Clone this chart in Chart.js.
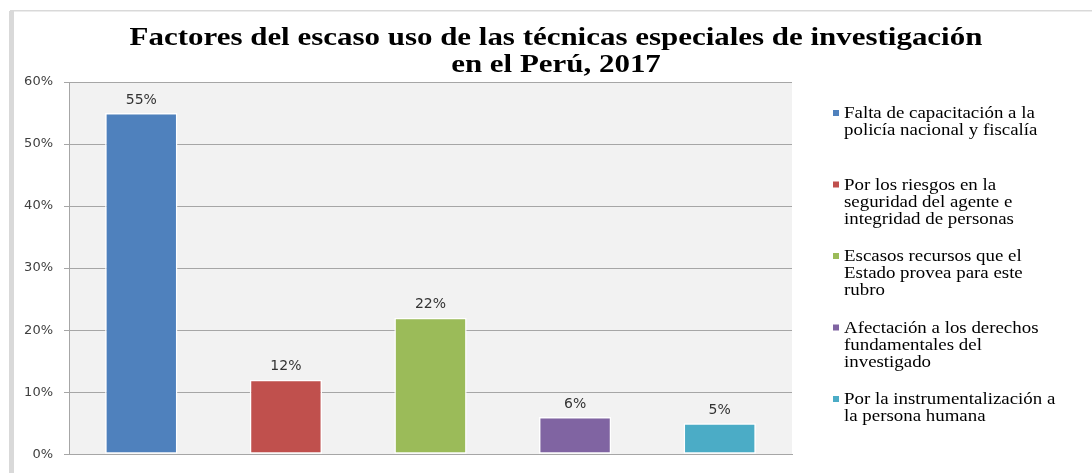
<!DOCTYPE html>
<html>
<head>
<meta charset="utf-8">
<script src="https://cdn.jsdelivr.net/npm/chart.js@4"></script>
<style>
  html, body { margin: 0; padding: 0; background: #fff; }
  #wrap { width: 1092px; height: 473px; }
</style>
</head>
<body>
<div id="wrap"><canvas id="chart"></canvas></div>
<script>
const titleLines = ['Factores del escaso uso de las técnicas especiales de investigación', 'en el Perú, 2017'];
const categories = [
    ['Falta de capacitación a la', 'policía nacional y fiscalía'],
    ['Por los riesgos en la', 'seguridad del agente e', 'integridad de personas'],
    ['Escasos recursos que el', 'Estado provea para este', 'rubro'],
    ['Afectación a los derechos', 'fundamentales del', 'investigado'],
    ['Por la instrumentalización a', 'la persona humana']
];
const values = [55, 12, 22, 6, 5];
const barColors = ['#4F81BD', '#C0504D', '#9BBB59', '#8064A2', '#4BACC6'];
const yTicks = [0, 10, 20, 30, 40, 50, 60];

// grey frame + plot background
const frame = {
    id: 'frame',
    beforeDraw(chart) {
        const { ctx, chartArea: a } = chart;
        ctx.save();
        ctx.fillStyle = '#f2f2f2';
        ctx.fillRect(a.left, a.top, a.right - a.left, a.bottom - a.top);
        ctx.fillStyle = '#d9d9d9';
        ctx.fillRect(10, 10, chart.width - 10, 1.5);
        ctx.fillRect(9, 11, 5, chart.height - 11);
        ctx.restore();
    }
};

// title, the original is a stretched serif
const wideTitle = {
    id: 'wideTitle',
    afterDraw(chart) {
        const ctx = chart.ctx;
        ctx.save();
        ctx.translate(556, 0);
        ctx.scale(1.19, 1);
        ctx.font = 'bold 26px "Liberation Serif"';
        ctx.fillStyle = '#000';
        ctx.textAlign = 'center';
        ctx.textBaseline = 'alphabetic';
        titleLines.forEach((t, i) => ctx.fillText(t, 0, 45 + i * 27));
        ctx.restore();
    }
};

// percent labels above bars
const valueLabels = {
    id: 'valueLabels',
    afterDatasetsDraw(chart) {
        const ctx = chart.ctx;
        const meta = chart.getDatasetMeta(0);
        ctx.save();
        ctx.font = '14px "DejaVu Sans"';
        ctx.fillStyle = '#333333';
        ctx.textAlign = 'center';
        ctx.textBaseline = 'middle';
        meta.data.forEach((bar, i) => {
            ctx.fillText(values[i] + '%', bar.x, bar.y - 13);
        });
        ctx.restore();
    }
};

// legend on the right, wrapped like the original
const sideLegend = {
    id: 'sideLegend',
    afterDraw(chart) {
        const ctx = chart.ctx;
        const x0 = chart.chartArea.right + 41;
        ctx.save();
        ctx.textBaseline = 'alphabetic';
        categories.forEach((lines, i) => {
            const y = chart.chartArea.top + 36 + i * 71.5;
            ctx.fillStyle = barColors[i];
            ctx.fillRect(x0, y - 8, 6, 6);
            ctx.save();
            ctx.translate(x0 + 11, y);
            ctx.scale(1.18, 1);
            ctx.font = '16px "Liberation Serif"';
            ctx.fillStyle = '#000';
            lines.forEach((t, j) => ctx.fillText(t, 0, j * 17));
            ctx.restore();
        });
        ctx.restore();
    }
};

new Chart(document.getElementById('chart'), {
    type: 'bar',
    data: {
        labels: categories,
        datasets: [{
            data: values,
            backgroundColor: barColors,
            borderColor: '#ffffff',
            borderWidth: 1.5,
            borderSkipped: false,
            categoryPercentage: 1,
            barPercentage: 0.5
        }]
    },
    options: {
        responsive: true,
        maintainAspectRatio: false,
        animation: false,
        layout: { padding: { left: 20, right: 0, top: 82, bottom: 17 } },
        plugins: {
            legend: { display: false },
            tooltip: { enabled: false },
            title: { display: false }
        },
        scales: {
            x: {
                ticks: { display: false },
                grid: { display: false },
                border: { color: '#a6a6a6' },
                afterFit(s) { s.height = 0; }
            },
            y: {
                min: 0,
                max: 60,
                afterBuildTicks(s) { s.ticks = yTicks.map(v => ({ value: v })); },
                ticks: {
                    callback: v => v + '%',
                    color: '#404040',
                    font: { family: '"DejaVu Sans"', size: 13 },
                    padding: 11
                },
                grid: { color: '#a6a6a6', tickLength: 5 },
                border: { color: '#a6a6a6' },
                afterFit(s) { s.width = 49; }
            },
            // reserves the space on the right for the legend
            side: {
                position: 'right',
                ticks: { display: false },
                grid: { display: false },
                border: { display: false },
                afterFit(s) { s.width = 300; }
            }
        }
    },
    plugins: [frame, wideTitle, valueLabels, sideLegend]
});
</script>
</body>
</html>
